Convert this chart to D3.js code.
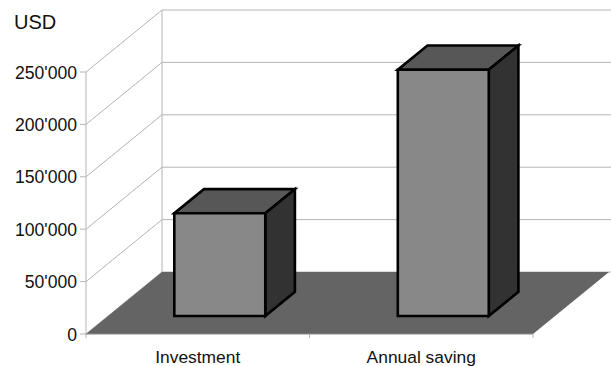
<!DOCTYPE html>
<html><head><meta charset="utf-8">
<script src="https://cdn.jsdelivr.net/npm/d3@7"></script>
<style>body{margin:0;background:#fff}svg{display:block}text{font-family:"Liberation Sans",Arial,sans-serif;fill:#111}</style>
</head><body>
<script>
const categories = ["Investment", "Annual saving"];
const values = [98000, 235000];
const yTicks = [0, 50000, 100000, 150000, 200000, 250000];
const yTickLabels = ["0", "50'000", "100'000", "150'000", "200'000", "250'000"];
const unitLabel = "USD";

const W = 611, H = 366;
const svg = d3.select("body").append("svg").attr("width", W).attr("height", H);

const x = d3.scaleBand().domain(categories).range([86, 533]).padding(0);
const y = d3.scaleLinear().domain([0, 250000]).range([334, 72]);
const DX = 76, DY = -62;
const P = (px, v, d) => [px + d * DX, y(v) + d * DY];
const barFrac = 0.407, d0 = 0.29, d1 = 0.68;

const grid = "#b4b4b4";
const g = svg.append("g");
// back wall gridlines and left wall diagonals
yTicks.forEach(v => {
  const a = P(x.range()[0], v, 0), b = P(x.range()[0], v, 1), c = P(x.range()[1], v, 1);
  g.append("line").attr("x1", a[0]).attr("y1", a[1]).attr("x2", b[0]).attr("y2", b[1]).attr("stroke", grid);
  g.append("line").attr("x1", b[0]).attr("y1", b[1]).attr("x2", c[0] + 2).attr("y2", c[1]).attr("stroke", grid);
});
{
  const a = P(x.range()[0], 0, 1), b = P(x.range()[0], 250000, 1);
  g.append("line").attr("x1", a[0]).attr("y1", a[1]).attr("x2", b[0]).attr("y2", b[1]).attr("stroke", grid);
}
// floor
const floorPts = [P(86, 0, 0), P(533, 0, 0), P(533, 0, 1), P(86, 0, 1)];
g.append("polygon").attr("points", floorPts.map(p => p.join(",")).join(" ")).attr("fill", "#646464");

// y axis line
g.append("line").attr("x1", 86).attr("y1", y(250000)).attr("x2", 86).attr("y2", y(0) + 4).attr("stroke", grid);
// x axis line + ticks
g.append("line").attr("x1", 86).attr("y1", y(0)).attr("x2", 533).attr("y2", y(0)).attr("stroke", "#8a8a8a");
[x(categories[1]), 533].forEach(t => {
  g.append("line").attr("x1", t).attr("y1", y(0)).attr("x2", t).attr("y2", y(0) + 4).attr("stroke", grid);
});
// y ticks + labels
yTicks.forEach((v, i) => {
  g.append("line").attr("x1", 80).attr("y1", y(v)).attr("x2", 86).attr("y2", y(v)).attr("stroke", grid);
  g.append("text").attr("x", 77).attr("y", y(v) + 6.5).attr("text-anchor", "end")
    .attr("font-size", 17.6).text(yTickLabels[i]);
});
svg.append("text").attr("x", 14).attr("y", 29).attr("font-size", 20).text(unitLabel);

// bars
const poly = pts => pts.map(p => p.join(",")).join(" ");
categories.forEach((c, i) => {
  const bw = x.bandwidth() * barFrac;
  const cx = x(c) + x.bandwidth() / 2;
  const x0 = cx - bw / 2, x1 = cx + bw / 2;
  const v = values[i];
  const bg = svg.append("g").attr("stroke", "#000").attr("stroke-width", 2.6).attr("stroke-linejoin", "miter");
  bg.append("polygon").attr("fill", "#575757")
    .attr("points", poly([P(x0, v, d0), P(x1, v, d0), P(x1, v, d1), P(x0, v, d1)]));
  bg.append("polygon").attr("fill", "#323232")
    .attr("points", poly([P(x1, v, d0), P(x1, 0, d0), P(x1, 0, d1), P(x1, v, d1)]));
  bg.append("polygon").attr("fill", "#888888")
    .attr("points", poly([P(x0, v, d0), P(x1, v, d0), P(x1, 0, d0), P(x0, 0, d0)]));
  svg.append("text").attr("x", cx).attr("y", 363).attr("text-anchor", "middle")
    .attr("font-size", 17.4).text(c);
});
</script>
</body></html>
